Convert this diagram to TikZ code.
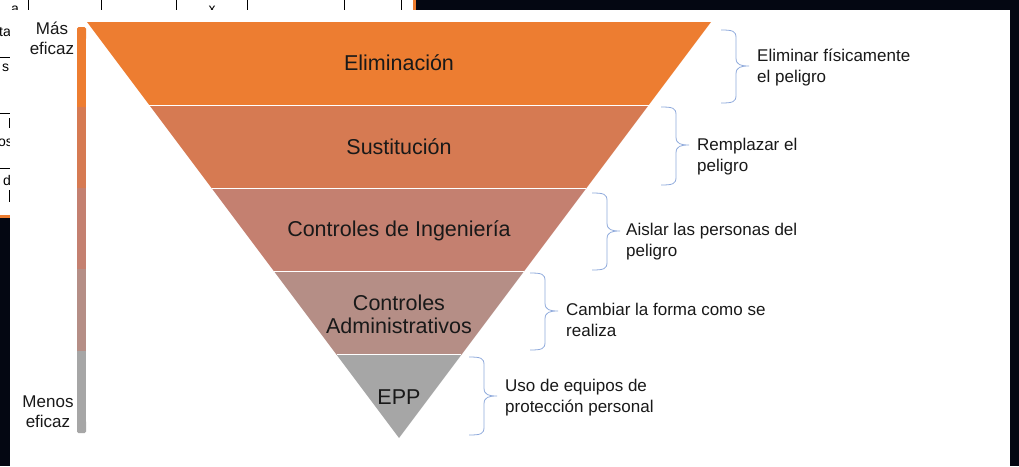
\documentclass[tikz,border=0pt]{standalone}
\usepackage{fontspec}
\setmainfont{Liberation Sans}
\definecolor{cA}{RGB}{237,125,49}
\definecolor{cB}{RGB}{214,122,82}
\definecolor{cC}{RGB}{196,128,112}
\definecolor{cD}{RGB}{181,142,134}
\definecolor{cE}{RGB}{166,166,166}
\definecolor{bracec}{RGB}{143,170,220}
\definecolor{bgc}{RGB}{4,7,18}
\definecolor{txt}{RGB}{25,25,25}
\newcommand{\rbr}[4]{% x0, top, tip y, bottom
  \draw[bracec, line width=0.8pt]
    (#1,#2) .. controls (#1+12,#2) and (#1+15,#2+1) .. (#1+15,#2+8)
    -- (#1+15,#3-8) .. controls (#1+15,#3-1) and (#1+20,#3) .. (#1+28,#3)
    .. controls (#1+20,#3) and (#1+15,#3+1) .. (#1+15,#3+8)
    -- (#1+15,#4-8) .. controls (#1+15,#4-1) and (#1+12,#4) .. (#1,#4);}
\begin{document}
\begin{tikzpicture}[x=1pt,y=-1pt,
  lvl/.style={font=\fontsize{21.5}{23}\selectfont, text=txt, align=center},
  desc/.style={font=\fontsize{17}{21}\selectfont, text=txt, align=left, anchor=west, inner sep=0pt},
  side/.style={font=\fontsize{17}{20}\selectfont, text=txt, align=center, inner sep=0pt},
  frag/.style={font=\fontsize{14}{14}\selectfont, text=black, inner sep=0pt}]
\useasboundingbox (0,0) rectangle (1019,466);
\fill[bgc] (0,0) rectangle (1019,466);
% table fragments behind the panel
\fill[white] (0,0) rectangle (413,10);
\fill[white] (0,0) rectangle (10,216);
\fill[cA] (413,0) rectangle (416,10);
\fill[cA] (0,215) rectangle (10,218);
\foreach \x in {28,101,176,247,344,401} \draw[black, line width=0.8pt] (\x,0) -- (\x,10);
\foreach \y in {57,113,168} \draw[black, line width=0.8pt] (0,\y) -- (10,\y);
\draw[black, line width=0.8pt] (9,118) -- (9,128);
\draw[black, line width=0.8pt] (9,190) -- (9,202);
\node[frag, anchor=west] (f1) at (-1,31) {tabla};
\node[frag, anchor=west] (f2) at (2,68) {s};
\node[frag, anchor=west] (f3) at (-2,143) {os};
\node[frag, anchor=west] (f4) at (3,180) {d};
\node[frag, anchor=north] (f5) at (15,6) {a};
\node[frag, anchor=north] (f6) at (212,6) {x};
% white panel
\fill[white] (10,10) rectangle (1010,466);
% inverted pyramid layers
\fill[cA] (87,22) -- (711,22) -- (648.6,105.2) -- (149.4,105.2) -- cycle;
\fill[cB] (149.4,105.2) -- (648.6,105.2) -- (586.2,188.4) -- (211.8,188.4) -- cycle;
\fill[cC] (211.8,188.4) -- (586.2,188.4) -- (523.8,271.6) -- (274.2,271.6) -- cycle;
\fill[cD] (274.2,271.6) -- (523.8,271.6) -- (461.4,354.8) -- (336.6,354.8) -- cycle;
\fill[cE] (336.6,354.8) -- (461.4,354.8) -- (399,438) -- cycle;
\foreach \a/\b/\y in {149.4/648.6/105.2, 211.8/586.2/188.4, 274.2/523.8/271.6, 336.6/461.4/354.8}
  \draw[white, line width=1.2pt] (\a,\y) -- (\b,\y);
\node[lvl] (l1) at (399,63) {Eliminación};
\node[lvl] (l2) at (399,147) {Sustitución};
\node[lvl] (l3) at (399,231) {Controles de Ingeniería};
\node[lvl] (l4) at (399,314.5) {Controles\\Administrativos};
\node[lvl] (l5) at (399,397) {EPP};
% left effectiveness bar
\fill[cA, rounded corners=1.5pt] (77,27) rectangle (86,40);
\fill[cA] (77,35) rectangle (86,107);
\fill[cB] (77,107) rectangle (86,188);
\fill[cC] (77,188) rectangle (86,269);
\fill[cD] (77,269) rectangle (86,351);
\fill[cE] (77,351) rectangle (86,425);
\fill[cE, rounded corners=1.5pt] (77,420) rectangle (86,433);
\node[side] (mas) at (52,38) {Más\\eficaz};
\node[side] (menos) at (48,412) {Menos\\eficaz};
% braces
\rbr{721}{30}{66}{103}
\rbr{661}{107}{145}{185}
\rbr{592}{193}{231}{270}
\rbr{530}{273}{311}{350}
\rbr{469}{357}{396}{435}
\node[desc] (d1) at (757,67.5) {Eliminar físicamente\\el peligro};
\node[desc] (d2) at (697,156.5) {Remplazar el\\peligro};
\node[desc] (d3) at (626,242) {Aislar las personas del\\peligro};
\node[desc] (d4) at (566,319.5) {Cambiar la forma como se\\realiza};
\node[desc] (d5) at (505,398) {Uso de equipos de\\protección personal};
\end{tikzpicture}
\end{document}
